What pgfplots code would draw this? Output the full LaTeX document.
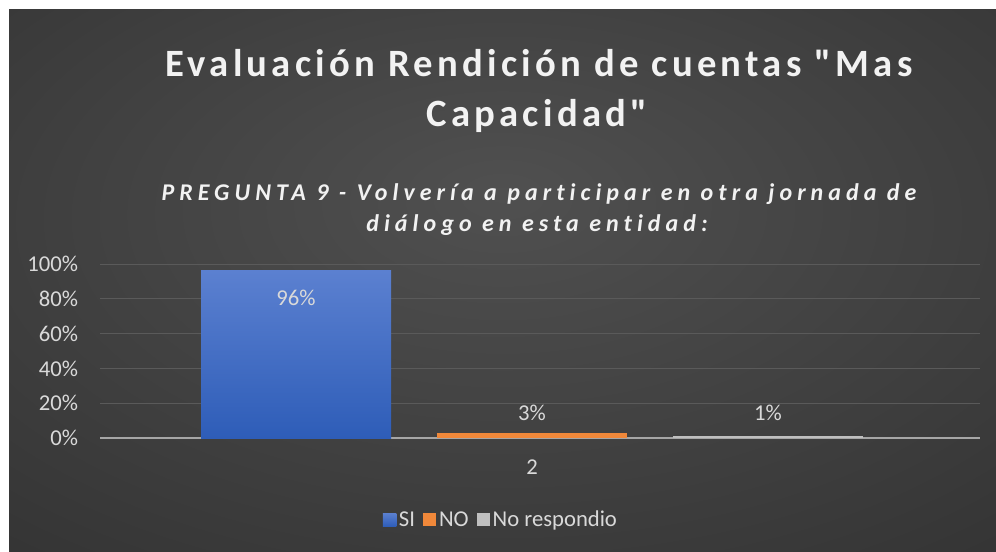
\documentclass[border=0pt]{standalone}
\usepackage{pgfplots}
\pgfplotsset{compat=1.18}
\usepackage{fontspec}
\setmainfont{Carlito}
\newfontfamily\titlefont[LetterSpace=11, Ligatures={NoCommon,NoRequired,NoContextual}]{Carlito}
\newfontfamily\subfont[LetterSpace=21, Ligatures={NoCommon,NoRequired,NoContextual}]{Carlito}
\definecolor{bginner}{HTML}{505050}
\definecolor{bgouter}{HTML}{242424}
\definecolor{titlecol}{HTML}{F2F2F2}
\definecolor{ticktext}{HTML}{D9D9D9}
\definecolor{gridcol}{HTML}{5A5A5A}
\definecolor{axiscol}{HTML}{A6A6A6}
\definecolor{sitop}{HTML}{5B80D0}
\definecolor{sibot}{HTML}{2E5DB8}
\definecolor{nocol}{HTML}{F0883A}
\definecolor{nrcol}{HTML}{BFBFBF}
\pgfdeclareradialshading{bgshade}{\pgfpoint{0bp}{8bp}}{color(0bp)=(bginner); color(62bp)=(bgouter); color(80bp)=(bgouter)}
\begin{document}
\begin{tikzpicture}
\begin{scope}[x=0.75pt,y=0.75pt]
\fill[white] (0,0) rectangle (996,551);
\shade[shading=bgshade] (9,0) rectangle (996,541);
\node[anchor=base, inner sep=0pt, text=titlecol, font=\titlefont\bfseries\fontsize{29}{34}\selectfont] at (539,474) {Evaluación Rendición de cuentas "Mas};
\node[anchor=base, inner sep=0pt, text=titlecol, font=\titlefont\bfseries\fontsize{29}{34}\selectfont] at (537,424) {Capacidad"};
\node[anchor=base, inner sep=0pt, text=titlecol, font=\subfont\bfseries\itshape\fontsize{18}{21}\selectfont] at (539,351) {PREGUNTA 9 - Volvería a participar en otra jornada de};
\node[anchor=base, inner sep=0pt, text=titlecol, font=\subfont\bfseries\itshape\fontsize{18}{21}\selectfont] at (537,320) {diálogo en esta entidad:};
\end{scope}
\begin{axis}[
  at={(75pt,84.75pt)}, anchor=south west,
  scale only axis, width=660pt, height=130.5pt,
  xmin=0, xmax=880, ymin=0, ymax=100,
  ytick={0,20,...,100},
  yticklabel={\pgfmathprintnumber{\tick}\%},
  xtick={432}, xticklabels={2},
  ymajorgrids, grid style={draw=gridcol, line width=0.75pt},
  axis x line*=bottom, axis y line*=left,
  y axis line style={draw=none},
  x axis line style={draw=axiscol, line width=1.7pt, -},
  major tick length=0pt,
  tick label style={text=ticktext, font=\fontsize{17}{20}\selectfont},
  yticklabel style={xshift=-13pt},
  xticklabel style={yshift=-13pt},
  /pgf/number format/assume math mode=true,
  ybar, bar width=190, bar shift=0pt,
  nodes near coords={\pgfmathprintnumber{\pgfplotspointmeta}\%},
  every node near coord/.append style={text=ticktext, font=\fontsize{17}{20}\selectfont, anchor=center},
  legend columns=-1,
  legend style={at={(0.456,-0.471)}, anchor=center, draw=none, fill=none,
    text=ticktext, font=\fontsize{17}{20}\selectfont,
    /tikz/every even column/.append style={column sep=4pt},
    /tikz/every odd column/.append style={column sep=0pt}},
]
\addplot[draw=none, top color=sitop, bottom color=sibot,
  every node near coord/.append style={yshift=-20.25pt},
  legend image code/.code={\fill[sibot] (0pt,-4.8pt) rectangle (10pt,5.2pt);}]
  coordinates {(196,96)};
\addlegendentry{SI}
\addplot[draw=none, fill=nocol,
  every node near coord/.append style={yshift=14.9pt},
  legend image code/.code={\fill[nocol] (0pt,-4.8pt) rectangle (10pt,5.2pt);}]
  coordinates {(432,3)};
\addlegendentry{NO}
\addplot[draw=none, fill=nrcol,
  every node near coord/.append style={yshift=17.5pt},
  legend image code/.code={\fill[nrcol] (0pt,-4.8pt) rectangle (10pt,5.2pt);}]
  coordinates {(668,1)};
\addlegendentry{No respondio}
\end{axis}
\end{tikzpicture}
\end{document}
